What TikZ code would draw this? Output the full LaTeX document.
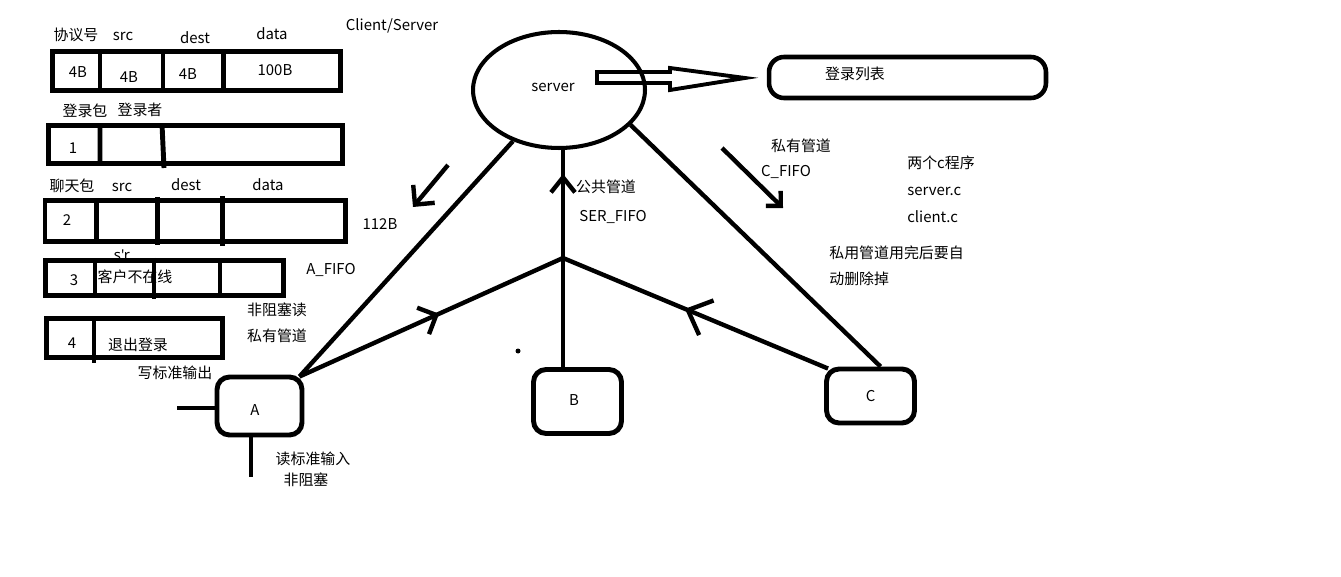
\documentclass[tikz,border=0pt]{standalone}
\usepackage{fontspec}
\setmainfont{Noto Sans CJK SC}
\newfontfamily\latinfont{Noto Sans}
\usetikzlibrary{shapes.geometric,arrows.meta,decorations.markings,calc}

\begin{document}
\begin{tikzpicture}[x=0.02cm,y=-0.02cm,
  every node/.style={font=\fontsize{8.5}{10}\selectfont, inner sep=0pt},
  tbl/.style={line width=2.8pt},
  wire/.style={line width=2.5pt},
  client/.style={draw, line width=2.8pt, rounded corners=0.25cm},
  midtip/.style args={#1:#2:#3}{postaction={decorate},
    decoration={markings, mark=at position #1 with {\arrow{Straight Barb[length=#2,width=#3]}}}}
]
\useasboundingbox (0,0) rectangle (1341,577);

% ---------- packet layouts ----------
\node at (76,35) {协议号};
\node at (123,36) {src};
\node at (195,38) {dest};
\node at (272,34) {data};
\node at (392,26) {Client/Server};
\node at (78,72) {4B};
\node at (129,77) {4B};
\node at (188,74) {4B};
\node at (275,70) {100B};

\node at (85,111) {登录包};
\node at (140,110) {登录者};
\node at (73,148) {1};

\node at (72,186) {聊天包};
\node at (122,187) {src};
\node at (186,185) {dest};
\node at (268,185) {data};
\node at (67,220) {2};
\node at (380,224) {112B};

\node at (122,255) {\latinfont s\char39r};
\node at (74,280) {3};
\node at (135,277) {客户不在线};
\node at (331,270) {A\_FIFO};

\node at (72,343) {4};
\node at (138,345) {退出登录};
\node at (277,310) {非阻塞读};
\node at (277,336) {私有管道};
\node at (175,373) {写标准输出};

% row 1: header
\draw[tbl] (52.5,51.5) rectangle (340.5,90.5);
\draw[tbl] (100,51.5) -- (100,90.5) (163,51.5) -- (163,90.5) (223.5,51.5) -- (223.5,90.5);
% row 2: login
\draw[tbl] (48.5,125.5) rectangle (342.5,163.5);
\draw[tbl] (100,125.5) -- (100,163.5) (162,124) -- (164,168);
% row 3: chat
\draw[tbl] (45,200.5) rectangle (345.5,241.5);
\draw[tbl] (96.7,200.5) -- (96.7,241.5) (157.7,197) -- (157.7,245) (222.7,196) -- (222.7,246);
% row 4: offline
\draw[tbl] (45.5,260.5) rectangle (283.5,295.5);
\draw[tbl] (95,260.5) -- (95,295.5) (154,258) -- (154,299) (220,260.5) -- (220,295.5);
% row 5: logout
\draw[tbl] (46.5,318.5) rectangle (222.5,357.5);
\draw[tbl] (94,321) -- (94,363);

% ---------- server side ----------
\node[ellipse, draw, line width=2.3pt, minimum width=3.44cm, minimum height=2.32cm] (server) at (559,90) {};
\node at (553,87) {server};
\node[draw, line width=2.6pt, rounded corners=0.3cm, minimum width=5.54cm, minimum height=0.82cm] (list) at (907.5,77.5) {};
\node at (855,74) {登录列表};
\draw[line width=2.2pt, line join=miter] (597,72) -- (670,72) -- (670,68) -- (745,78) -- (670,90) -- (670,83) -- (597,83) -- cycle;

% ---------- clients ----------
\node[client, minimum width=1.7cm, minimum height=1.16cm] (A) at (259.5,406) {};
\node at (255,410) {A};
\node[client, minimum width=1.76cm, minimum height=1.28cm] (B) at (577.5,401.5) {};
\node at (574,400) {B};
\node[client, minimum width=1.76cm, minimum height=1.08cm] (C) at (870.5,396) {C};
\coordinate (J) at (563,258);
\coordinate (Acorner) at ($(A.north east)+(-5,2)$);
\coordinate (Ccorner) at ($(C.north west)+(4,2)$);

\draw[wire] (server.-132) -- (Acorner);
\draw[wire] (server.-26) -- ($(C.north)+(10,0)$);
\draw[wire, midtip={0.89:0.3cm:0.48cm}] (J |- B.north) -- (J |- server.south);
\draw[wire, midtip={0.53:0.29cm:0.58cm}] (Acorner) -- (J);
\draw[wire, midtip={0.54:0.4cm:0.75cm}] (Ccorner) -- (J);

\coordinate (p1) at (448,165);
\coordinate (p2) at (413,207);
\draw[wire, -{Straight Barb[length=0.28cm,width=0.56cm]}] (p1) -- (p2);
\coordinate (p3) at (722,148);
\coordinate (p4) at (783,208);
\draw[wire, -{Straight Barb[length=0.21cm,width=0.42cm]}] (p3) -- (p4);

\coordinate (ain) at (177,408);
\draw[wire] (ain) -- (A.west |- ain);
\coordinate (aout) at (251,477);
\draw[wire] (A.south -| aout) -- (aout);
\fill (518,351) circle (0.05cm);

% ---------- notes ----------
\node at (606,187) {公共管道};
\node at (613,217) {SER\_FIFO};
\node at (801,146) {私有管道};
\node at (786,172) {C\_FIFO};
\node[anchor=west] at (907,163) {两个c程序};
\node[anchor=west] at (907,191) {server.c};
\node[anchor=west] at (907,217) {client.c};
\node[anchor=west] at (829,253) {私用管道用完后要自};
\node[anchor=west] at (829,279) {动删除掉};
\node at (313,459) {读标准输入};
\node at (306,480) {非阻塞};
\end{tikzpicture}
\end{document}
